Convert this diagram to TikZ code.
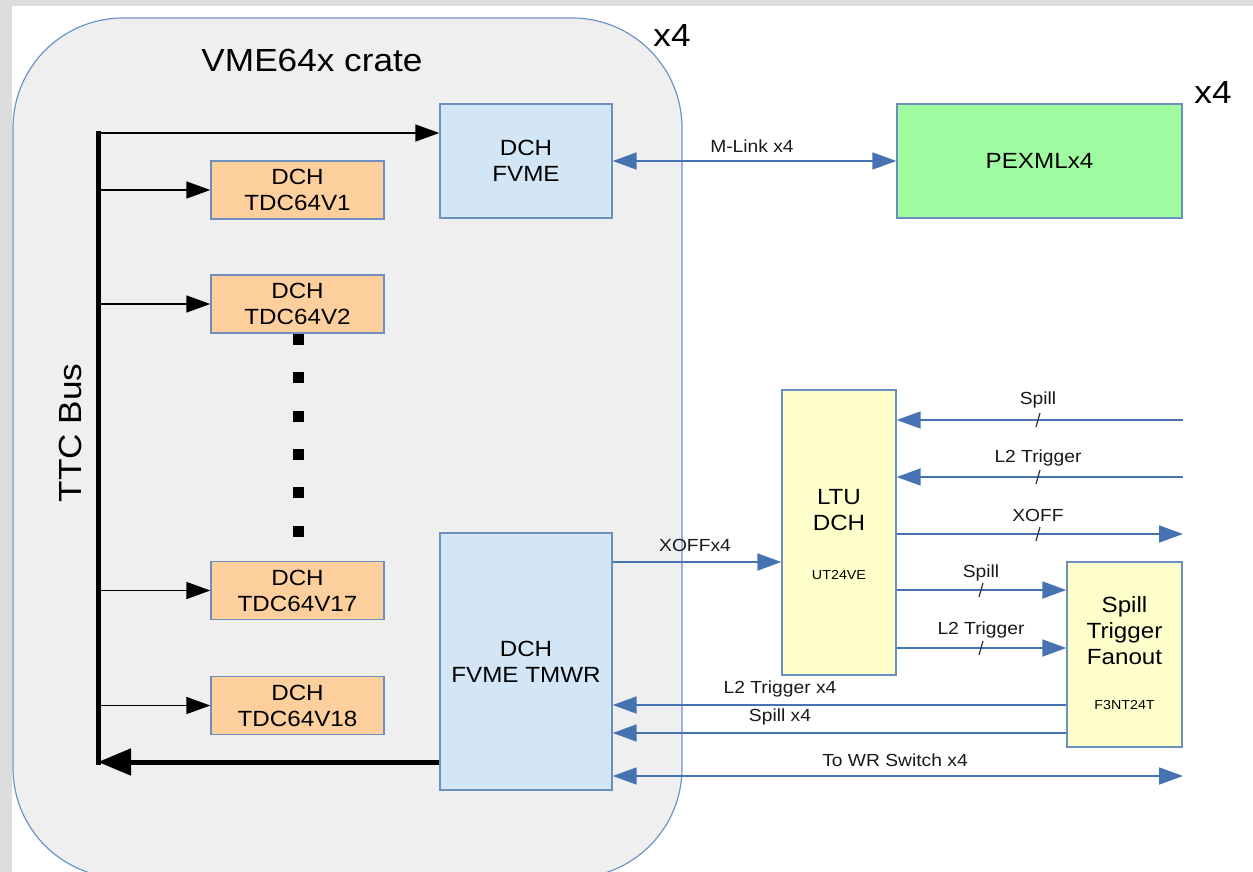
\documentclass[tikz,border=0pt]{standalone}
\usepackage{fontspec}
\setmainfont[FakeStretch=1.1]{Liberation Sans}
\usetikzlibrary{arrows.meta}

\definecolor{bandgray}{HTML}{DCDCDC}
\definecolor{cratefill}{HTML}{EFEFEF}
\definecolor{crateline}{HTML}{6F93C9}
\definecolor{boxline}{HTML}{6D8FC0}
\definecolor{tdcfill}{HTML}{FDCF9C}
\definecolor{vmefill}{HTML}{D3E6F5}
\definecolor{pexfill}{HTML}{A0FCA0}
\definecolor{ltufill}{HTML}{FFFFCC}
\definecolor{sigblue}{HTML}{4672B2}
\definecolor{tickgray}{HTML}{333333}

\tikzset{
  bigfont/.style={font=\fontsize{32}{38}\selectfont},
  boxfont/.style={font=\fontsize{22}{26}\selectfont},
  lblfont/.style={font=\fontsize{17.5}{20}\selectfont, text=black!90},
  chipfont/.style={font=\fontsize{13}{15}\selectfont},
  box/.style={draw=boxline, line width=1.4pt, inner sep=0pt, align=center, boxfont},
  tdcbox/.style={box, fill=tdcfill, minimum width=173pt, minimum height=58pt},
  vmebox/.style={box, fill=vmefill, minimum width=172pt},
  yelbox/.style={box, fill=ltufill},
  blackarrow/.style={draw=black, line width=1.6pt, -{Triangle[length=24pt,width=17pt]}},
  busline/.style={draw=black, line width=5pt},
  bigarrow/.style={draw=black, line width=5pt, -{Triangle[length=33pt,width=26pt]}},
  sig/.style={draw=sigblue, line width=1.8pt, -{Triangle[length=24pt,width=17pt]}},
  sigboth/.style={draw=sigblue, line width=1.8pt, {Triangle[length=24pt,width=17pt]}-{Triangle[length=24pt,width=17pt]}},
  tick/.style={draw=tickgray, line width=1.2pt},
  dot/.style={fill=black}
}

\begin{document}
\begin{tikzpicture}[x=1pt,y=-1pt]
  % page and frame bands
  \useasboundingbox (0,0) rectangle (1253,872);
  \fill[white] (0,0) rectangle (1253,872);
  \fill[bandgray] (0,0) rectangle (1253,6);
  \fill[bandgray] (0,0) rectangle (12,872);

  % crate outline
  \begin{scope}
    \clip (0,0) rectangle (1253,872);
    \draw[draw=crateline, fill=cratefill, line width=1.2pt, rounded corners=110pt]
      (13,18) rectangle (682,878);
  \end{scope}

  \node[bigfont] (cratetitle) at (312,60) {VME64x crate};
  \node[bigfont] (cratecount) at (672,35) {x4};
  \node[bigfont] (pexcount) at (1213,92) {x4};
  \node[bigfont, rotate=90] (ttc) at (70,433) {TTC Bus};

  % boards in the crate
  \node[vmebox, minimum height=114pt] (fvme) at (526,161) {DCH\\FVME};
  \node[vmebox, minimum height=257pt] (tmwr) at (526,661.5) {DCH\\FVME TMWR};
  \node[tdcbox] (tdc1) at (297.5,190) {DCH\\TDC64V1};
  \node[tdcbox] (tdc2) at (297.5,304) {DCH\\TDC64V2};
  \node[tdcbox] (tdc17) at (297.5,590.5) {DCH\\TDC64V17};
  \node[tdcbox] (tdc18) at (297.5,705.5) {DCH\\TDC64V18};

  % boards outside the crate
  \node[box, fill=pexfill, minimum width=285pt, minimum height=114pt] (pexml) at (1039.5,161) {PEXMLx4};
  \node[yelbox, minimum width=114pt, minimum height=285pt] (ltu) at (839,532.5) {};
  \node[boxfont, align=center] (ltutext) at (839,510) {LTU\\DCH};
  \node[chipfont] (ltuchip) at (839,575) {UT24VE};
  \node[yelbox, minimum width=115pt, minimum height=185pt] (fanout) at (1124.5,654.5) {};
  \node[boxfont, align=center] (fanouttext) at (1124.5,631) {Spill\\Trigger\\Fanout};
  \node[chipfont] (fanoutchip) at (1124.5,705) {F3NT24T};

  % continuation dots between TDC boards
  \foreach \yy in {339,377,416,454,492,531}
    \fill[dot] (292.5,\yy-5.5) rectangle (303.5,\yy+5.5);

  % TTC bus
  \coordinate (bustop) at (98,133);
  \coordinate (busbot) at (98,762);
  \draw[busline] ([yshift=2pt]bustop) -- ([yshift=-2.5pt]busbot);
  \draw[bigarrow] (busbot -| tmwr.west) -- (busbot);
  \draw[blackarrow] (bustop) -- (bustop -| fvme.west);
  \foreach \t in {tdc1,tdc2,tdc17,tdc18}
    \draw[blackarrow] (bustop |- \t.west) -- (\t.west);

  % M-Link
  \draw[sigboth] (fvme.east) -- (pexml.west);
  \node[lblfont] (mlink) at (752,146) {M-Link x4};

  % external signal levels
  \coordinate (spillin) at (1183,420);
  \coordinate (l2in) at (1183,477);
  \coordinate (xoffout) at (1183,534);
  \coordinate (xoffback) at (700,562);
  \coordinate (spillfan) at (981,590);
  \coordinate (l2fan) at (981,648);
  \coordinate (l2back) at (780,705);
  \coordinate (spillback) at (780,733);
  \coordinate (wrsw) at (1183,776);

  \draw[sig] (spillin) -- (spillin -| ltu.east);
  \draw[sig] (l2in) -- (l2in -| ltu.east);
  \draw[sig] (xoffout -| ltu.east) -- (xoffout);
  \draw[sig] (spillfan -| ltu.east) -- (spillfan -| fanout.west);
  \draw[sig] (l2fan -| ltu.east) -- (l2fan -| fanout.west);
  \draw[sig] (xoffback -| tmwr.east) -- (xoffback -| ltu.west);
  \draw[sig] (l2back -| fanout.west) -- (l2back -| tmwr.east);
  \draw[sig] (spillback -| fanout.west) -- (spillback -| tmwr.east);
  \draw[sigboth] (wrsw -| tmwr.east) -- (wrsw);

  % bus-width ticks
  \foreach \xx/\yy in {1038/420,1038/477,1038/534,981/590,981/648}
    \draw[tick] (\xx-2,\yy+7) -- (\xx+2,\yy-7);

  % signal labels
  \node[lblfont] (lspill) at (1038,400) {Spill};
  \node[lblfont] (ll2) at (1038,458) {L2 Trigger};
  \node[lblfont] (lxoff) at (1038,515) {XOFF};
  \node[lblfont] (lspillf) at (981,573) {Spill};
  \node[lblfont] (ll2f) at (981,630) {L2 Trigger};
  \node[lblfont] (lxoffx) at (695,545) {XOFFx4};
  \node[lblfont] (ll2x) at (780,689) {L2 Trigger x4};
  \node[lblfont] (lspillx) at (780,717) {Spill x4};
  \node[lblfont] (lwr) at (895,760) {To WR Switch x4};
\end{tikzpicture}
\end{document}
